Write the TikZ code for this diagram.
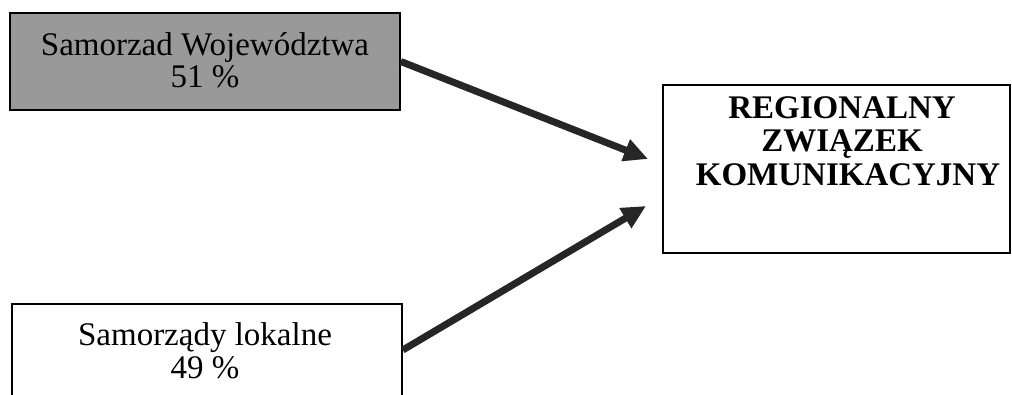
\documentclass[tikz,border=0pt]{standalone}
\usepackage{fontspec}
\setmainfont{Liberation Serif}
\usetikzlibrary{arrows.meta}
\begin{document}
\begin{tikzpicture}[x=1pt,y=-1pt,
  boxstyle/.style={draw=black,line width=1.6pt,inner sep=0pt,minimum width=#1},
  txtstyle/.style={inner sep=0pt,align=center,font=\fontsize{33}{36}\selectfont},
  boldtxt/.style={txtstyle,font=\fontsize{33}{36}\selectfont\bfseries},
  bigarrow/.style={draw=black!85,line width=7pt,-{Triangle[length=24pt,width=22pt]}}]
\useasboundingbox (0,0) rectangle (1012,395);
\begin{scope}
\clip (0,0) rectangle (1012,395);
% top box
\node[boxstyle=390pt,minimum height=97pt,fill=black!40] (a) at (205,61.5) {};
\node[txtstyle,anchor=base] (a1) at (205,56) {Samorzad Województwa};
\node[txtstyle,anchor=base] (a2) at (205,88) {51 \%};
% bottom box
\node[boxstyle=390pt,minimum height=92pt] (b) at (207,350) {};
\node[txtstyle,anchor=base] (b1) at (205,345) {Samorządy lokalne};
\node[txtstyle,anchor=base] (b2) at (205,378) {49 \%};
% right box
\node[boxstyle=347pt,minimum height=168pt] (c) at (836.5,169) {};
\node[boldtxt,anchor=base] (c1) at (842,119) {REGIONALNY};
\node[boldtxt,anchor=base] (c2) at (842,152) {ZWIĄZEK};
\node[boldtxt,anchor=base] (c3) at (848,186) {KOMUNIKACYJNY};
% arrow ends
\coordinate (t1) at (648,159);
\coordinate (t2) at (646,206);
\draw[bigarrow] (a.east) -- (t1);
\draw[bigarrow] (b.east) -- (t2);
\end{scope}
\end{tikzpicture}
\end{document}
